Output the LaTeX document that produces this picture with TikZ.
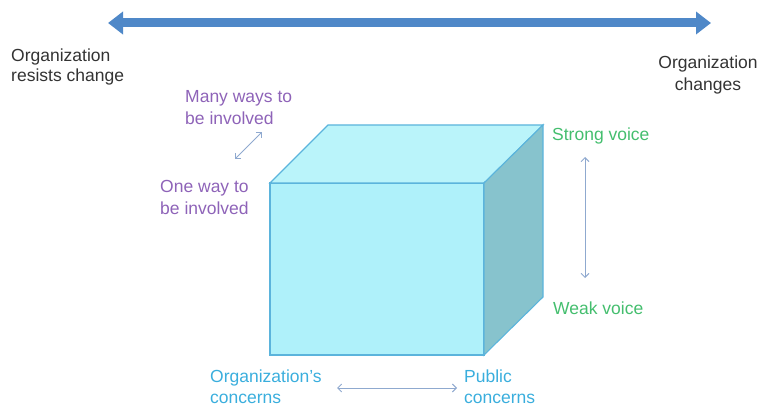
\documentclass[tikz,border=0pt]{standalone}
\usepackage{fontspec}
\setmainfont{Liberation Sans}
\usepackage{tikz}
\usetikzlibrary{arrows.meta}

\definecolor{bararrow}{HTML}{4F88C8}
\definecolor{frontface}{HTML}{AFF1FA}
\definecolor{topface}{HTML}{BAF4FA}
\definecolor{sideface}{HTML}{87C3CD}
\definecolor{cubeedge}{HTML}{5BB4DC}
\definecolor{involvecol}{HTML}{8E63B8}
\definecolor{voicecol}{HTML}{44BE6E}
\definecolor{concerncol}{HTML}{3AAEDD}
\definecolor{thinarrow}{HTML}{8FA9CF}

\begin{document}
\begin{tikzpicture}[x=1pt, y=-1pt,
    every node/.style={inner sep=0pt, font=\fontsize{17.5}{22}\selectfont},
    smallarrow/.style={thinarrow, line width=0.9pt,
        {Straight Barb[length=4pt,width=8pt]}-{Straight Barb[length=4pt,width=8pt]}}]
    \useasboundingbox (0,0) rectangle (761,409);

    % Scale of change
    \coordinate (resist) at (108,23);
    \coordinate (change) at (711,23);
    \draw[bararrow, line width=9pt,
        {Triangle[length=15pt,width=22pt]}-{Triangle[length=15pt,width=22pt]}] (resist) -- (change);
    \node[anchor=north west, align=left, text=black!80, font=\fontsize{17.5}{20}\selectfont] (resisttext) at (11,49) {Organization\\resists change};
    \node[anchor=north, align=center, text=black!80] (changetext) at (708,56) {Organization\\changes};

    % Cube
    \coordinate (fa) at (270,183);
    \coordinate (fb) at (484,183);
    \coordinate (fc) at (484,355);
    \coordinate (fd) at (270,355);
    \coordinate (ba) at (328,125);
    \coordinate (bb) at (543,125);
    \coordinate (bc) at (543,297);
    \filldraw[fill=frontface, draw=cubeedge, line width=1.1pt] (fa) -- (fb) -- (fc) -- (fd) -- cycle;
    \filldraw[fill=topface, draw=cubeedge, line width=1.1pt] (fa) -- (ba) -- (bb) -- (fb) -- cycle;
    \filldraw[fill=sideface, draw=cubeedge, line width=1.1pt] (fb) -- (bb) -- (bc) -- (fc) -- cycle;

    % Involvement
    \node[anchor=north west, align=left, text=involvecol] (manyways) at (185,90) {Many ways to\\be involved};
    \node[anchor=north west, align=left, text=involvecol] (oneway) at (160,180) {One way to\\be involved};
    \coordinate (onept) at (235,159);
    \coordinate (manypt) at (262,132);
    \draw[smallarrow] (onept) -- (manypt);

    % Voice
    \node[anchor=north west, text=voicecol] (strong) at (552,128) {Strong voice};
    \node[anchor=north west, text=voicecol] (weak) at (553,302) {Weak voice};
    \coordinate (strongpt) at (585,157);
    \coordinate (weakpt) at (585,278);
    \draw[smallarrow] (strongpt) -- (weakpt);

    % Concerns
    \node[anchor=north west, align=left, text=concerncol, font=\fontsize{17.5}{21}\selectfont] (orgconcern) at (210,370) {Organization's\\concerns};
    \node[anchor=north west, align=left, text=concerncol, font=\fontsize{17.5}{21}\selectfont] (pubconcern) at (464,370) {Public\\concerns};
    \coordinate (orgpt) at (337,388);
    \coordinate (pubpt) at (457,388);
    \draw[smallarrow] (orgpt) -- (pubpt);
\end{tikzpicture}
\end{document}
